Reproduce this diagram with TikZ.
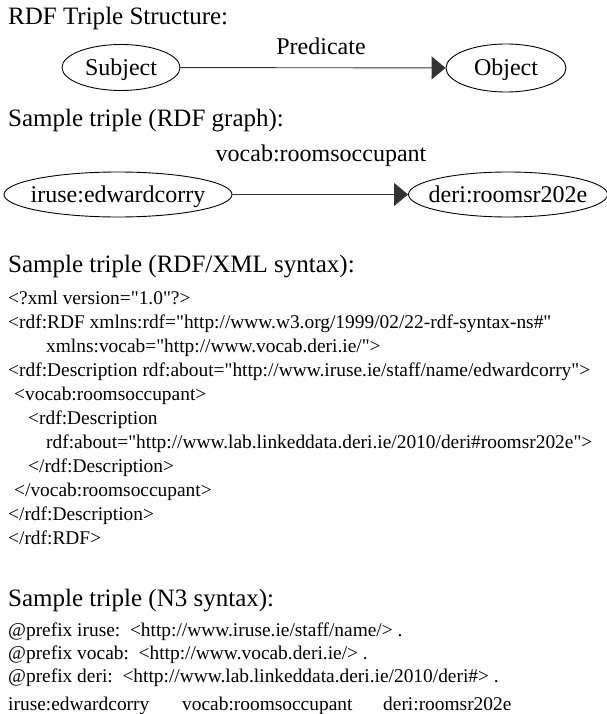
\documentclass[tikz,border=0pt]{standalone}
\usepackage{fontspec}
\setmainfont{Liberation Serif}
\usetikzlibrary{shapes.geometric,arrows.meta}
\font\codef="Liberation Serif" at 19.4pt
\newcommand\elltext[1]{\makebox[0pt]{\raisebox{-8pt}[0pt][0pt]{#1}}}
\begin{document}
\begin{tikzpicture}[x=1pt,y=-1pt,
  heading/.style={anchor=base west,inner sep=0pt,font=\fontsize{25}{25}\selectfont},
  code/.style={anchor=base west,inner sep=0pt,font=\codef},
  ell/.style={draw,ellipse,line width=0.9pt,inner sep=0pt,font=\fontsize{24}{24}\selectfont},
  lbl/.style={anchor=base,inner sep=0pt,font=\fontsize{24}{24}\selectfont},
  conn/.style={line width=0.9pt,draw=black!80,-{Triangle[length=14pt,width=23pt,fill=black!80]}}]
\useasboundingbox (0,0) rectangle (606,714);
% Section 1
\node[heading] (h1) at (8,25) {RDF Triple Structure:};
\node[ell,minimum width=118pt,minimum height=46pt] (subj) at (121,67.5) {\elltext{Subject}};
\node[ell,minimum width=120pt,minimum height=48pt] (obj) at (506,68) {\elltext{Object}};
\draw[conn] (subj) -- (obj);
\node[lbl] (pred) at (321,55) {Predicate};
% Section 2
\node[heading] (h2) at (8,127) {Sample triple (RDF graph):};
\node[ell,minimum width=228pt,minimum height=45pt] (iruse) at (118,194.5) {\elltext{iruse:edwardcorry}};
\node[ell,minimum width=199pt,minimum height=45pt] (deri) at (508,194.5) {\elltext{deri:roomsr202e}};
\draw[conn] (iruse) -- (deri);
\node[lbl] (voc) at (321,161) {vocab:roomsoccupant};
% Section 3
\node[heading] (h3) at (8,272) {Sample triple (RDF/XML syntax):};
\node[code] (x1) at (8,304) {<?xml version="1.0"?>};
\node[code] (x2) at (8,328) {<rdf:RDF xmlns:rdf="http://www.w3.org/1999/02/22-rdf-syntax-ns\#"};
\node[code] (x3) at (46,352) {xmlns:vocab="http://www.vocab.deri.ie/">};
\node[code] (x4) at (8,376) {<rdf:Description rdf:about="http://www.iruse.ie/staff/name/edwardcorry">};
\node[code] (x5) at (14,400) {<vocab:roomsoccupant>};
\node[code] (x6) at (28,424) {<rdf:Description};
\node[code] (x7) at (46,448) {rdf:about="http://www.lab.linkeddata.deri.ie/2010/deri\#roomsr202e">};
\node[code] (x8) at (28,472) {</rdf:Description>};
\node[code] (x9) at (14,496) {</vocab:roomsoccupant>};
\node[code] (x10) at (8,520) {</rdf:Description>};
\node[code] (x11) at (8,544) {</rdf:RDF>};
% Section 4
\node[heading] (h4) at (8,606) {Sample triple (N3 syntax):};
\node[code] (n1) at (8,636) {@prefix iruse:\ \ <http://www.iruse.ie/staff/name/> .};
\node[code] (n2) at (8,659) {@prefix vocab:\ \ <http://www.vocab.deri.ie/> .};
\node[code] (n3) at (8,682) {@prefix deri:\ \ <http://www.lab.linkeddata.deri.ie/2010/deri\#> .};
\node[code] (n4) at (8,710) {iruse:edwardcorry};
\node[code] (n5) at (182,710) {vocab:roomsoccupant};
\node[code] (n6) at (383,710) {deri:roomsr202e};
\end{tikzpicture}
\end{document}
